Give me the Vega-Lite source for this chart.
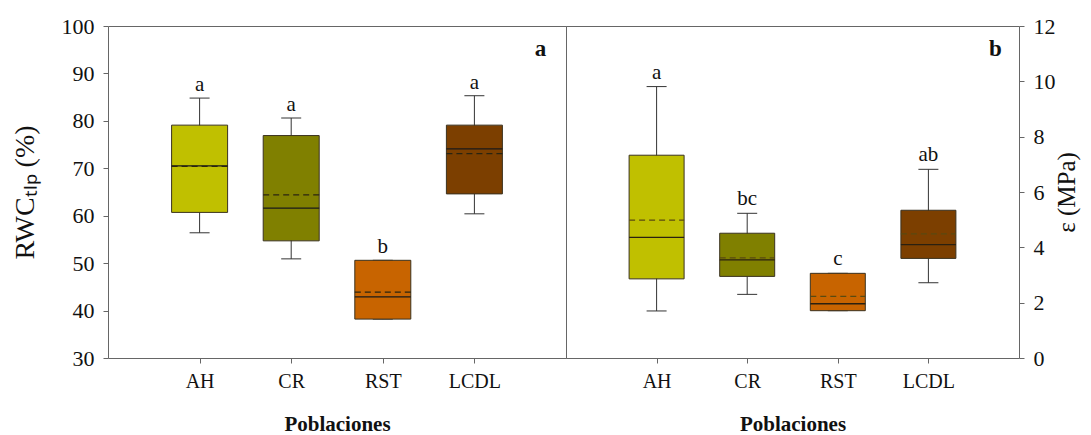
{
  "$schema": "https://vega.github.io/schema/vega-lite/v6.json",
  "padding": {"left": 10, "top": 14, "right": 5, "bottom": 5},
  "background": "white",
  "bounds": "flush",
  "config": {
    "font": "Liberation Serif",
    "text": {"font": "Liberation Serif"},
    "view": {"stroke": "#666", "strokeWidth": 1},
    "axis": {"grid": false, "labelFont": "Liberation Serif", "titleFont": "Liberation Serif", "labelColor": "#111", "titleColor": "#111", "tickColor": "#666", "domain": false, "tickSize": 5}
  },
  "datasets": {
    "rwc": [
      {"pob": "AH", "min": 56.4, "q1": 60.7, "median": 70.5, "mean": 70.4, "q3": 79.1, "max": 84.8, "letra": "a"},
      {"pob": "CR", "min": 50.9, "q1": 54.7, "median": 61.6, "mean": 64.4, "q3": 76.9, "max": 80.6, "letra": "a"},
      {"pob": "RST", "min": 38.2, "q1": 38.2, "median": 42.9, "mean": 43.9, "q3": 50.6, "max": 50.6, "letra": "b"},
      {"pob": "LCDL", "min": 60.4, "q1": 64.6, "median": 74.1, "mean": 73.1, "q3": 79.1, "max": 85.3, "letra": "a"}
    ],
    "eps": [
      {"pob": "AH", "min": 1.70, "q1": 2.86, "median": 4.36, "mean": 4.98, "q3": 7.33, "max": 9.81, "letra": "a"},
      {"pob": "CR", "min": 2.30, "q1": 2.95, "median": 3.55, "mean": 3.62, "q3": 4.51, "max": 5.23, "letra": "bc"},
      {"pob": "RST", "min": 1.71, "q1": 1.71, "median": 1.96, "mean": 2.23, "q3": 3.06, "max": 3.06, "letra": "c"},
      {"pob": "LCDL", "min": 2.72, "q1": 3.60, "median": 4.10, "mean": 4.49, "q3": 5.34, "max": 6.82, "letra": "ab"}
    ]
  },
  "spacing": 0,
  "hconcat": [
    {
      "width": 458,
      "height": 332,
      "data": {"name": "rwc"},
      "encoding": {
        "x": {"field": "pob", "type": "nominal", "sort": null,
              "scale": {"type": "point", "padding": 1, "domain": ["AH", "CR", "RST", "LCDL"]},
              "axis": {"title": "Poblaciones", "titleFont": "Liberation Serif", "labelFont": "Liberation Serif", "titleFontWeight": "bold", "titleFontSize": 21, "labelFontSize": 20, "labelAngle": 0, "labelPadding": 8, "titlePadding": 22}}
      },
      "layer": [
        {"mark": {"type": "rule", "color": "#333", "strokeWidth": 1},
         "encoding": {
           "y": {"field": "min", "type": "quantitative", "scale": {"domain": [30, 100], "nice": false},
                 "axis": {"title": "RWCₜₗₚ (%)", "titleFont": "Liberation Serif", "labelFont": "Liberation Serif", "titleFontSize": 28, "titleFontWeight": "normal", "labelFontSize": 22, "values": [30, 40, 50, 60, 70, 80, 90, 100], "labelPadding": 9, "titlePadding": 22}},
           "y2": {"field": "max"}}},
        {"mark": {"type": "rule", "color": "#333", "strokeWidth": 1, "xOffset": -10, "x2Offset": 10},
         "encoding": {"x2": {"field": "pob"}, "y": {"field": "min", "type": "quantitative"}}},
        {"mark": {"type": "rule", "color": "#333", "strokeWidth": 1, "xOffset": -10, "x2Offset": 10},
         "encoding": {"x2": {"field": "pob"}, "y": {"field": "max", "type": "quantitative"}}},
        {"mark": {"type": "bar", "size": 56, "stroke": "#3a3220", "strokeWidth": 1},
         "encoding": {
           "y": {"field": "q1", "type": "quantitative"},
           "y2": {"field": "q3"},
           "color": {"field": "pob", "type": "nominal", "legend": null,
                     "scale": {"domain": ["AH", "CR", "RST", "LCDL"], "range": ["#c0c000", "#808000", "#c86400", "#7c3f00"]}}}},
        {"mark": {"type": "rule", "color": "#1a1a1a", "strokeWidth": 1.3, "xOffset": -28, "x2Offset": 28},
         "encoding": {"x2": {"field": "pob"}, "y": {"field": "median", "type": "quantitative"}}},
        {"mark": {"type": "rule", "color": "#2a2410", "strokeWidth": 1.3, "strokeDash": [6, 4], "xOffset": -28, "x2Offset": 28},
         "encoding": {"x2": {"field": "pob"}, "y": {"field": "mean", "type": "quantitative"}}},
        {"mark": {"type": "text", "fontSize": 21, "dy": -7, "baseline": "alphabetic", "color": "#111", "font": "Liberation Serif"},
         "encoding": {"y": {"field": "max", "type": "quantitative"}, "text": {"field": "letra"}}},
        {"data": {"values": [{"panel": "a"}]},
         "mark": {"type": "text", "fontSize": 23, "fontWeight": "bold", "dx": 66, "baseline": "middle", "color": "#111", "font": "Liberation Serif"},
         "encoding": {"x": {"datum": "LCDL"}, "y": {"datum": 95.1}, "text": {"field": "panel"}}}
      ]
    },
    {
      "width": 453,
      "height": 332,
      "data": {"name": "eps"},
      "encoding": {
        "x": {"field": "pob", "type": "nominal", "sort": null,
              "scale": {"type": "point", "padding": 1, "domain": ["AH", "CR", "RST", "LCDL"]},
              "axis": {"title": "Poblaciones", "titleFont": "Liberation Serif", "labelFont": "Liberation Serif", "titleFontWeight": "bold", "titleFontSize": 21, "labelFontSize": 20, "labelAngle": 0, "labelPadding": 8, "titlePadding": 22}}
      },
      "layer": [
        {"mark": {"type": "rule", "color": "#333", "strokeWidth": 1},
         "encoding": {
           "y": {"field": "min", "type": "quantitative", "scale": {"domain": [0, 12], "nice": false},
                 "axis": {"orient": "right", "title": "ε (MPa)", "titleFont": "Liberation Serif", "labelFont": "Liberation Serif", "titleAngle": 270, "titleFontSize": 25, "titleFontWeight": "normal", "labelFontSize": 22, "values": [0, 2, 4, 6, 8, 10, 12], "labelPadding": 9, "titlePadding": 24}},
           "y2": {"field": "max"}}},
        {"mark": {"type": "rule", "color": "#333", "strokeWidth": 1, "xOffset": -10, "x2Offset": 10},
         "encoding": {"x2": {"field": "pob"}, "y": {"field": "min", "type": "quantitative"}}},
        {"mark": {"type": "rule", "color": "#333", "strokeWidth": 1, "xOffset": -10, "x2Offset": 10},
         "encoding": {"x2": {"field": "pob"}, "y": {"field": "max", "type": "quantitative"}}},
        {"mark": {"type": "bar", "size": 55, "stroke": "#3a3220", "strokeWidth": 1},
         "encoding": {
           "y": {"field": "q1", "type": "quantitative"},
           "y2": {"field": "q3"},
           "color": {"field": "pob", "type": "nominal", "legend": null,
                     "scale": {"domain": ["AH", "CR", "RST", "LCDL"], "range": ["#c0c000", "#808000", "#c86400", "#7c3f00"]}}}},
        {"mark": {"type": "rule", "color": "#2a2010", "strokeWidth": 1.3, "xOffset": -27.5, "x2Offset": 27.5},
         "encoding": {"x2": {"field": "pob"}, "y": {"field": "median", "type": "quantitative"}}},
        {"mark": {"type": "rule", "color": "#5a4a10", "strokeWidth": 1.3, "strokeDash": [6, 4], "xOffset": -27.5, "x2Offset": 27.5},
         "encoding": {"x2": {"field": "pob"}, "y": {"field": "mean", "type": "quantitative"}}},
        {"mark": {"type": "text", "fontSize": 21, "dy": -8, "baseline": "alphabetic", "color": "#111", "font": "Liberation Serif"},
         "encoding": {"y": {"field": "max", "type": "quantitative"}, "text": {"field": "letra"}}},
        {"data": {"values": [{"panel": "b"}]},
         "mark": {"type": "text", "fontSize": 23, "fontWeight": "bold", "dx": 67, "baseline": "middle", "color": "#111", "font": "Liberation Serif"},
         "encoding": {"x": {"datum": "LCDL"}, "y": {"datum": 11.17}, "text": {"field": "panel"}}}
      ]
    }
  ]
}
